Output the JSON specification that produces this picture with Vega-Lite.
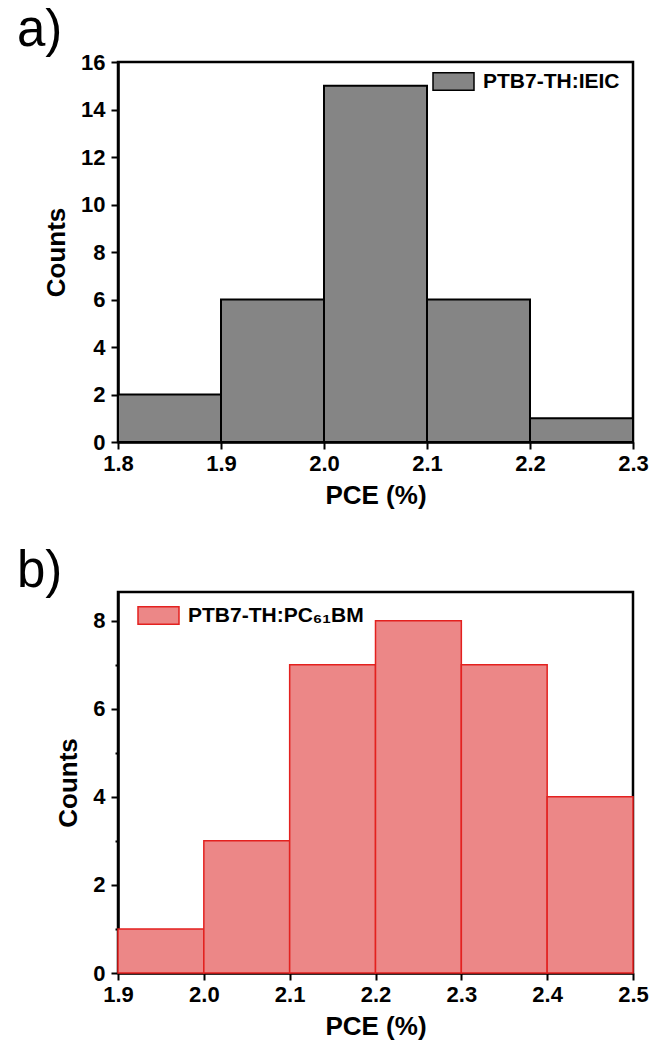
{
  "$schema": "https://vega.github.io/schema/vega-lite/v6.json",
  "background": "white",
  "padding": {"left": 15, "top": 3, "right": 5, "bottom": 0},
  "spacing": 34,
  "config": {
    "view": {"stroke": "black", "strokeWidth": 2.5},
    "font": "Liberation Sans",
    "axis": {
      "grid": false,
      "labelFont": "Liberation Sans",
      "labelFontWeight": "bold",
      "labelFontSize": 22,
      "labelColor": "black",
      "titleFont": "Liberation Sans",
      "titleFontWeight": "bold",
      "titleFontSize": 26,
      "titleColor": "black",
      "domainColor": "black",
      "domainWidth": 2.5,
      "tickColor": "black",
      "tickWidth": 2,
      "tickSize": 7,
      "labelFlush": false,
      "labelOverlap": false
    },
    "axisX": {"labelPadding": 4, "titlePadding": 8},
    "axisY": {"labelPadding": 6, "titlePadding": 11},
    "title": {"font": "Liberation Sans", "fontSize": 51, "fontWeight": "normal", "color": "black", "anchor": "start", "frame": "group", "baseline": "alphabetic", "offset": -6, "dx": -101},
    "legend": {
      "padding": 0,
      "symbolType": "M-1,-0.43L1,-0.43L1,0.43L-1,0.43Z",
      "symbolSize": 1681,
      "symbolStrokeWidth": 1.5,
      "labelFont": "Liberation Sans",
      "labelFontWeight": "bold",
      "labelFontSize": 21,
      "labelColor": "black",
      "labelOffset": 8,
      "labelLimit": 400
    }
  },
  "vconcat": [
    {
      "title": "a)",
      "width": 515,
      "height": 380,
      "data": {"values": [
        {"start": 1.8, "end": 1.9, "count": 2, "series": "PTB7-TH:IEIC"},
        {"start": 1.9, "end": 2.0, "count": 6, "series": "PTB7-TH:IEIC"},
        {"start": 2.0, "end": 2.1, "count": 15, "series": "PTB7-TH:IEIC"},
        {"start": 2.1, "end": 2.2, "count": 6, "series": "PTB7-TH:IEIC"},
        {"start": 2.2, "end": 2.3, "count": 1, "series": "PTB7-TH:IEIC"}
      ]},
      "mark": {"type": "rect", "strokeWidth": 2},
      "encoding": {
        "x": {"field": "start", "type": "quantitative", "scale": {"domain": [1.8, 2.3], "nice": false, "zero": false},
              "axis": {"title": "PCE (%)", "values": [1.8, 1.9, 2.0, 2.1, 2.2, 2.3], "format": ".1f"}},
        "x2": {"field": "end"},
        "y": {"field": "count", "type": "quantitative", "scale": {"domain": [0, 16], "nice": false},
              "axis": {"title": "Counts", "values": [0, 2, 4, 6, 8, 10, 12, 14, 16]}},
        "y2": {"datum": 0},
        "fill": {"field": "series", "type": "nominal", "scale": {"domain": ["PTB7-TH:IEIC"], "range": ["#858585"]},
                 "legend": {"title": null, "orient": "none", "legendX": 314, "legendY": -2}},
        "stroke": {"field": "series", "type": "nominal", "scale": {"domain": ["PTB7-TH:IEIC"], "range": ["black"]}}
      }
    },
    {
      "title": "b)",
      "width": 515,
      "height": 381,
      "data": {"values": [
        {"start": 1.9, "end": 2.0, "count": 1, "series": "PTB7-TH:PC₆₁BM"},
        {"start": 2.0, "end": 2.1, "count": 3, "series": "PTB7-TH:PC₆₁BM"},
        {"start": 2.1, "end": 2.2, "count": 7, "series": "PTB7-TH:PC₆₁BM"},
        {"start": 2.2, "end": 2.3, "count": 8, "series": "PTB7-TH:PC₆₁BM"},
        {"start": 2.3, "end": 2.4, "count": 7, "series": "PTB7-TH:PC₆₁BM"},
        {"start": 2.4, "end": 2.5, "count": 4, "series": "PTB7-TH:PC₆₁BM"}
      ]},
      "mark": {"type": "rect", "strokeWidth": 1.5},
      "encoding": {
        "x": {"field": "start", "type": "quantitative", "scale": {"domain": [1.9, 2.5], "nice": false, "zero": false},
              "axis": {"title": "PCE (%)", "values": [1.9, 2.0, 2.1, 2.2, 2.3, 2.4, 2.5], "format": ".1f"}},
        "x2": {"field": "end"},
        "y": {"field": "count", "type": "quantitative", "scale": {"domain": [0, 8.65], "nice": false},
              "axis": {"title": "Counts", "values": [0, 1, 2, 3, 4, 5, 6, 7, 8],
                       "labelExpr": "datum.value % 2 == 0 ? datum.label : ''",
                       "tickSize": {"condition": {"test": "datum.value % 2 == 1", "value": 3}, "value": 7}}},
        "y2": {"datum": 0},
        "fill": {"field": "series", "type": "nominal", "scale": {"domain": ["PTB7-TH:PC₆₁BM"], "range": ["#ec8787"]},
                 "legend": {"title": null, "orient": "none", "legendX": 19, "legendY": 2}},
        "stroke": {"field": "series", "type": "nominal", "scale": {"domain": ["PTB7-TH:PC₆₁BM"], "range": ["#e3211f"]}}
      }
    }
  ],
  "resolve": {"scale": {"fill": "independent", "stroke": "independent"}, "legend": {"fill": "independent", "stroke": "independent"}}
}
